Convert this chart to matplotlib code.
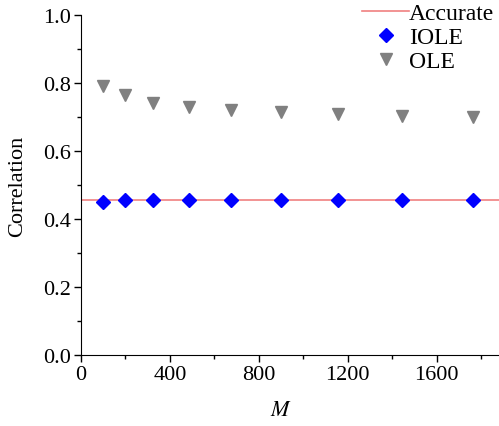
import matplotlib.pyplot as plt
from matplotlib.ticker import MultipleLocator

plt.rcParams['font.family'] = ['Liberation Serif', 'DejaVu Serif']
plt.rcParams['mathtext.fontset'] = 'stix'

# data
M = [100, 196, 324, 484, 676, 900, 1156, 1444, 1764]
iole = [0.451, 0.456, 0.457, 0.457, 0.457, 0.457, 0.457, 0.457, 0.457]
ole = [0.790, 0.765, 0.740, 0.730, 0.721, 0.714, 0.708, 0.703, 0.700]
accurate = 0.457

fig = plt.figure(figsize=(4.99, 4.27), dpi=100)
ax = fig.add_axes([81/499, 71/427, 418/499, 340/427])

ax.axhline(accurate, color='#f08080', lw=1.2, label='Accurate', zorder=1)
ax.plot(M, iole, 'D', color='blue', ms=7, ls='none', label='IOLE', zorder=3)
ax.plot(M, ole, 'v', color='gray', ms=8, ls='none', label='OLE', zorder=3)

ax.set_xlim(0, 1880)
ax.set_ylim(0, 1.0)
ax.xaxis.set_major_locator(MultipleLocator(400))
ax.xaxis.set_minor_locator(MultipleLocator(200))
ax.yaxis.set_major_locator(MultipleLocator(0.2))
ax.yaxis.set_minor_locator(MultipleLocator(0.1))
ax.yaxis.set_major_formatter(lambda v, p: f'{v:.1f}')
ax.tick_params(which='both', direction='out', labelsize=16, width=1, pad=2)
ax.tick_params(which='major', length=5)
ax.tick_params(which='minor', length=3)
for s in ['top', 'right']:
    ax.spines[s].set_visible(False)

ax.set_xlabel('$M$', fontsize=16)
ax.xaxis.set_label_coords(0.478, -0.135)
ax.set_ylabel('Correlation', fontsize=16)
ax.yaxis.set_label_coords(-0.128, 0.5)

ax.legend(loc='upper right', bbox_to_anchor=(1.04, 1.098), frameon=False,
          fontsize=17, handlelength=2.0, handletextpad=0.0, labelspacing=0.1)

fig.savefig('out.png', dpi=100)
